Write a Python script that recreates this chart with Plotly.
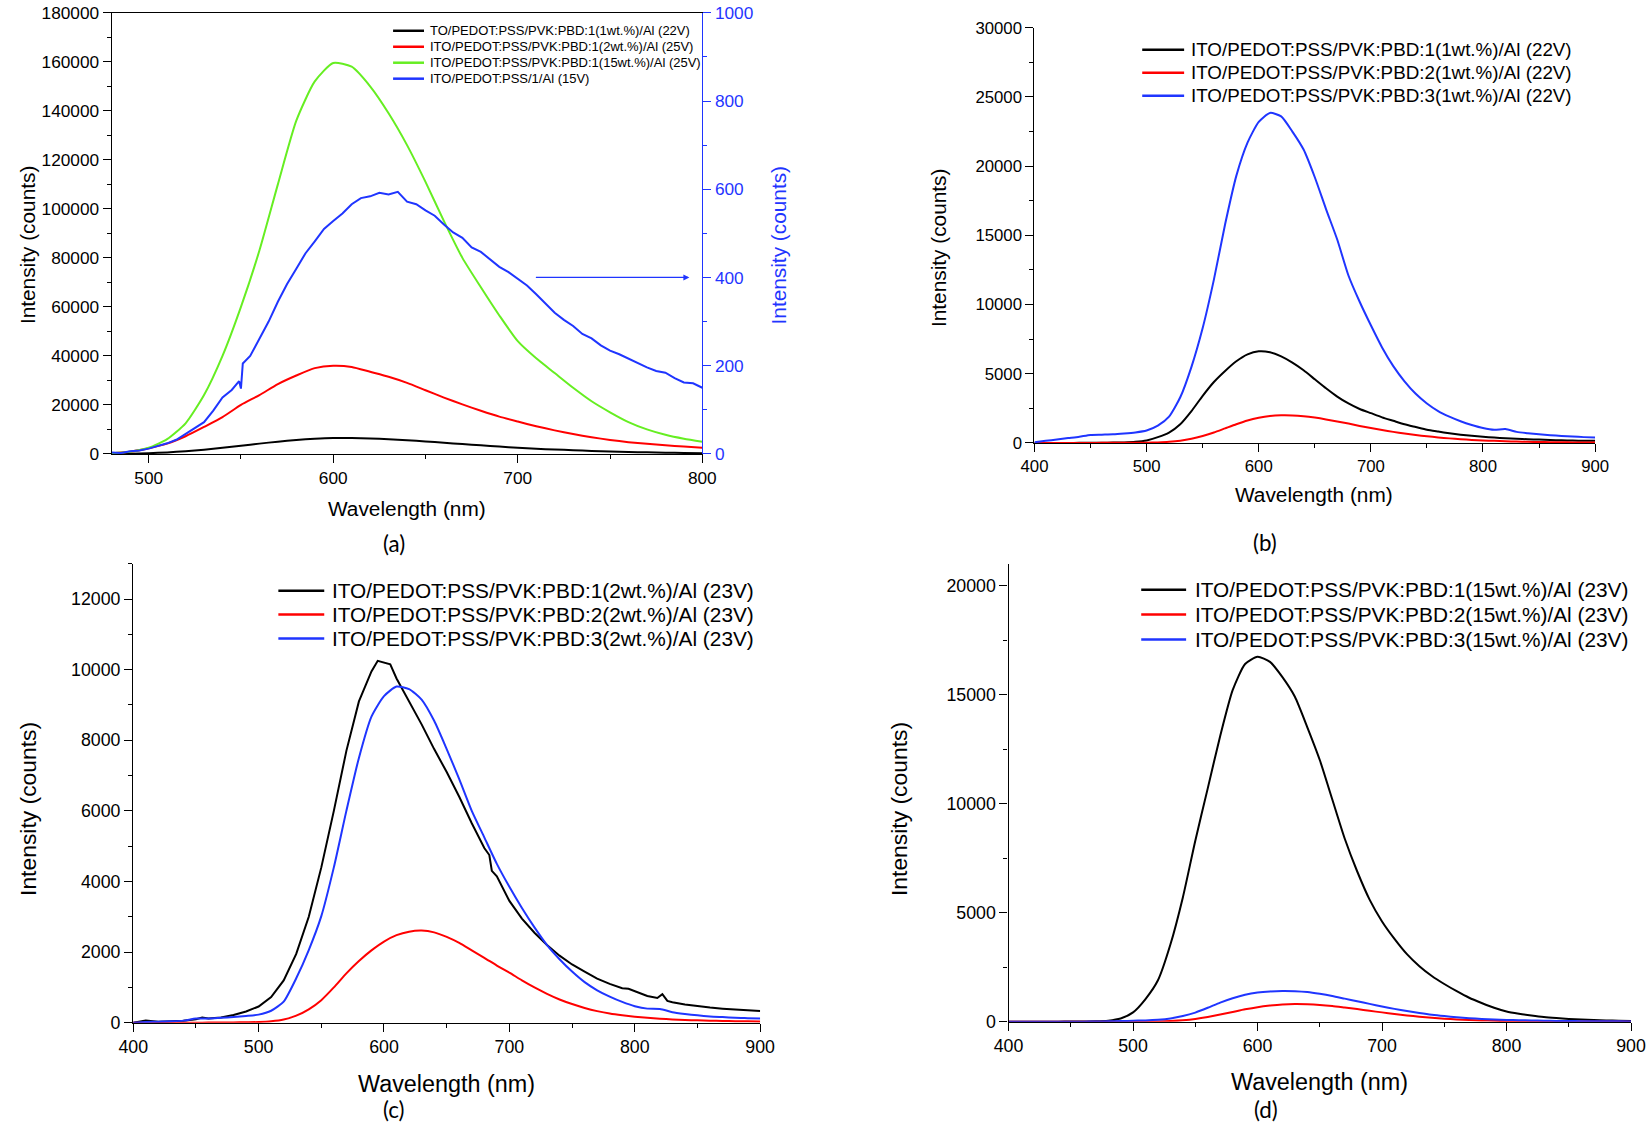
import plotly.graph_objects as go

# ---------------- data ----------------
# panel (a): 480-800 nm, 10 nm steps
a_wl = list(range(480, 801, 10))
a_1wt = [50, 100, 300, 600, 1100, 1700, 2500, 3300, 4200, 5000, 5700, 6200, 6500,
         6500, 6300, 6000, 5600, 5100, 4600, 4000, 3500, 3000, 2500, 2100, 1800,
         1500, 1200, 1000, 800, 650, 500, 400, 300]
a_2wt = [300, 900, 2300, 4200, 7200, 11000, 15000, 20000, 24000, 28500, 32000, 35000, 36000,
         35500, 33500, 31500, 29000, 26000, 23000, 20200, 17600, 15200, 13200, 11300, 9600,
         8100, 6800, 5700, 4800, 4100, 3500, 3000, 2500]
a_15wt = [300, 900, 2500, 6000, 12500, 24000, 40000, 60000, 83000, 110000, 136000, 152000, 159500,
          158000, 150000, 139000, 126000, 111000, 95000, 80000, 68000, 56500, 46000, 39000, 33000,
          27000, 21500, 17000, 13000, 10000, 7800, 6200, 5000]
# compound 1 alone (right axis), finer steps, noisy trace
a_c1_wl = [480, 485, 490, 495, 500, 505, 510, 515, 520, 525, 530, 535, 540, 545, 549, 550, 551,
           555, 560, 565, 570, 575, 580, 585, 590, 595, 600, 605, 610, 615, 620, 625, 630, 635,
           640, 645, 650, 655, 660, 665, 670, 675, 680, 685, 690, 695, 700, 705, 710, 715, 720,
           725, 730, 735, 740, 745, 750, 755, 760, 765, 770, 775, 780, 785, 790, 795, 800]
a_c1 = [3, 2, 6, 8, 12, 18, 24, 32, 45, 58, 72, 98, 128, 145, 165, 148, 205,
        222, 262, 300, 345, 385, 420, 455, 482, 510, 528, 545, 566, 580, 584, 592, 588, 594,
        572, 566, 552, 540, 520, 502, 490, 468, 458, 440, 424, 412, 398, 382, 362, 342, 320,
        304, 290, 272, 262, 246, 234, 226, 216, 205, 196, 188, 184, 172, 162, 160, 150]

# panels (b)-(d): 400-900 nm, 10 nm steps
bcd_wl = list(range(400, 901, 10))
b_pbd1 = [0, 0, 0, 0, 5, 10, 15, 25, 40, 80, 180, 420, 750, 1350, 2300, 3400, 4400, 5200, 5900, 6400,
          6620, 6550, 6250, 5800, 5250, 4600, 3950, 3350, 2850, 2450, 2150, 1850, 1600, 1350, 1150,
          950, 820, 700, 600, 520, 450, 390, 340, 300, 270, 240, 210, 190, 170, 160, 150]
b_pbd2 = [0, 0, 0, 0, 0, 0, 5, 5, 10, 10, 20, 40, 80, 160, 300, 500, 750, 1050, 1350, 1620,
          1820, 1950, 2000, 1990, 1930, 1830, 1700, 1550, 1400, 1230, 1080, 930, 800, 680, 570,
          480, 400, 330, 270, 220, 180, 150, 120, 100, 80, 65, 55, 45, 40, 35, 30]
b_pbd3 = [50, 150, 250, 350, 450, 580, 600, 620, 680, 760, 900, 1250, 1900, 3300, 5500, 8300, 11800,
          15800, 19300, 21700, 23200, 23850, 23600, 22500, 21200, 19200, 16900, 14700, 12100, 10200,
          8500, 6900, 5550, 4450, 3550, 2850, 2300, 1900, 1570, 1300, 1080, 950, 1000, 800, 700,
          620, 560, 510, 460, 420, 390]

c_pbd1_wl = [400, 410, 420, 430, 440, 450, 455, 460, 470, 480, 490, 500, 510, 520, 530, 540, 550,
             560, 570, 580, 590, 595, 600, 605, 610, 620, 630, 640, 650, 660, 670, 680, 684, 686,
             690, 700, 710, 720, 730, 740, 750, 760, 770, 780, 790, 795, 800, 810, 818, 822, 826,
             830, 840, 850, 860, 870, 880, 890, 900]
c_pbd1 = [0, 60, 30, 40, 60, 100, 150, 120, 150, 220, 320, 460, 725, 1200, 1950, 3000, 4400,
          6000, 7700, 9100, 9950, 10250, 10200, 10150, 9750, 9100, 8450, 7750, 7100, 6400, 5650,
          4950, 4750, 4300, 4150, 3450, 2950, 2550, 2200, 1900, 1650, 1450, 1250, 1100, 980, 960,
          900, 760, 700, 810, 620, 580, 520, 470, 430, 400, 370, 350, 330]
c_pbd2 = [0, 0, 0, 0, 0, 0, 5, 5, 10, 15, 20, 40, 90, 200, 380, 640, 1000, 1400, 1750, 2050,
          2300, 2480, 2580, 2610, 2560, 2430, 2260, 2050, 1840, 1620, 1420, 1200, 1000, 820, 660,
          530, 420, 330, 260, 210, 170, 140, 115, 95, 80, 68, 58, 50, 45, 40, 35]
c_pbd3 = [0, 20, 30, 40, 60, 120, 120, 140, 160, 190, 230, 340, 600, 1260, 2060, 3020, 4400,
          6000, 7500, 8670, 9250, 9520, 9450, 9150, 8550, 7750, 6900, 6000, 5250, 4500, 3850,
          3250, 2700, 2200, 1800, 1450, 1150, 920, 740, 590, 470, 400, 390, 300, 250, 210, 180,
          160, 140, 130, 120]

d_pbd1 = [0, 0, 0, 0, 5, 10, 15, 20, 50, 150, 430, 1040, 1900, 3540, 5700, 8300, 10700, 13100,
          15200, 16400, 16730, 16500, 15800, 14900, 13500, 12000, 10200, 8400, 6900, 5600, 4600,
          3800, 3100, 2550, 2100, 1730, 1400, 1100, 860, 640, 470, 370, 290, 220, 170, 130, 100,
          80, 60, 50, 40]
d_pbd2 = [0, 0, 0, 0, 0, 0, 0, 0, 0, 0, 0, 5, 15, 35, 70, 130, 220, 330, 450, 570,
          670, 740, 790, 810, 800, 770, 720, 650, 580, 500, 430, 360, 290, 230, 180, 140, 105,
          80, 60, 45, 35, 28, 22, 18, 15, 12, 10, 8, 7, 6, 5]
d_pbd3 = [0, 0, 0, 0, 5, 5, 5, 10, 20, 30, 50, 60, 90, 150, 260, 420, 640, 880, 1080, 1240,
          1340, 1390, 1410, 1400, 1360, 1280, 1180, 1060, 940, 820, 700, 590, 490, 400, 320, 260,
          210, 165, 130, 105, 85, 70, 58, 48, 40, 34, 28, 24, 20, 18, 15]

a_labels = ["TO/PEDOT:PSS/PVK:PBD:1(1wt.%)/Al (22V)", "ITO/PEDOT:PSS/PVK:PBD:1(2wt.%)/Al (25V)",
            "ITO/PEDOT:PSS/PVK:PBD:1(15wt.%)/Al (25V)", "ITO/PEDOT:PSS/1/Al (15V)"]
b_labels = ["ITO/PEDOT:PSS/PVK:PBD:%d(1wt.%%)/Al (22V)" % i for i in (1, 2, 3)]
c_labels = ["ITO/PEDOT:PSS/PVK:PBD:%d(2wt.%%)/Al (23V)" % i for i in (1, 2, 3)]
d_labels = ["ITO/PEDOT:PSS/PVK:PBD:%d(15wt.%%)/Al (23V)" % i for i in (1, 2, 3)]

# ---------------- styling ----------------
W, H = 1651, 1132
FONT = "Liberation Sans, Arial, sans-serif"
BLACK, RED, GREEN, BLUE = "#000000", "#FF0000", "#66EE22", "#1F35FF"
# the photographed page shows the figure slightly shrunk and inset; pixel positions
# measured on the reference are mapped through this correction
K = 1.016


def px(p):
    return 1.016 * p - 13.2


def py(p):
    return 1.015 * p - 8.3


def fx(p):
    return px(p) / W


def fy(p):
    return 1 - py(p) / H


def fs(s):
    return s * K


def line(x, y, color, xa, ya, shape="spline"):
    return go.Scatter(x=x, y=y, mode="lines", xaxis=xa, yaxis=ya, hoverinfo="skip",
                      line=dict(color=color, width=2, shape=shape, smoothing=0.6))


def axis(dom, rng, dtick, minor, size, color=BLACK, **kw):
    d = dict(domain=dom, range=rng, dtick=dtick, tick0=0, showline=True, linecolor=color,
             linewidth=1.3, ticks="outside", ticklen=8, tickwidth=1.3, tickcolor=color,
             minor=dict(dtick=minor, ticks="outside", ticklen=4, tickwidth=1.3, tickcolor=color),
             showgrid=False, zeroline=False, tickformat="d", fixedrange=True,
             tickfont=dict(family=FONT, size=fs(size), color=color))
    d.update(kw)
    return d


traces = [
    line(a_wl, a_1wt, BLACK, "x", "y"),
    line(a_wl, a_2wt, RED, "x", "y"),
    line(a_wl, a_15wt, GREEN, "x", "y"),
    line(a_c1_wl, a_c1, BLUE, "x", "y2", shape="linear"),
    line(bcd_wl, b_pbd1, BLACK, "x2", "y3"),
    line(bcd_wl, b_pbd2, RED, "x2", "y3"),
    line(bcd_wl, b_pbd3, BLUE, "x2", "y3"),
    line(c_pbd1_wl, c_pbd1, BLACK, "x3", "y4", shape="linear"),
    line(bcd_wl, c_pbd2, RED, "x3", "y4"),
    line(bcd_wl, c_pbd3, BLUE, "x3", "y4"),
    line(bcd_wl, d_pbd1, BLACK, "x4", "y5"),
    line(bcd_wl, d_pbd2, RED, "x4", "y5"),
    line(bcd_wl, d_pbd3, BLUE, "x4", "y5"),
]

fig = go.Figure(data=traces)

fig.update_layout(
    width=W, height=H, margin=dict(l=0, r=0, t=0, b=0),
    paper_bgcolor="white", plot_bgcolor="white", showlegend=False,
    xaxis=axis([fx(110), fx(702)], [480, 800], 100, 50, 17, anchor="y", mirror=True),
    yaxis=axis([fy(454), fy(12)], [0, 180000], 20000, 10000, 17, anchor="x"),
    yaxis2=axis([fy(454), fy(12)], [0, 1000], 200, 100, 17, color=BLUE, anchor="x",
                overlaying="y", side="right"),
    xaxis2=axis([fx(1035), fx(1597)], [400, 900], 100, 50, 16.5, anchor="y3"),
    yaxis3=axis([fy(443), fy(27)], [0, 30000], 5000, 2500, 16.5, anchor="x2"),
    xaxis3=axis([fx(131.5), fx(760)], [400, 900], 100, 50, 17.5, anchor="y4"),
    yaxis4=axis([fy(1024), fy(564)], [0, 13000], 2000, 1000, 17.5, anchor="x3"),
    xaxis4=axis([fx(1009), fx(1633)], [400, 900], 100, 50, 17.5, anchor="y5"),
    yaxis5=axis([fy(1023), fy(564)], [0, 21000], 5000, 2500, 17.5, anchor="x4"),
)

ann = []
shapes = []


def text(x, y, s, size, color=BLACK, angle=0, family=FONT):
    ann.append(dict(x=x, y=y, xref="paper", yref="paper", text=s, showarrow=False,
                    textangle=angle, xanchor="center", yanchor="middle",
                    font=dict(family=family, size=fs(size), color=color)))


# axis titles and panel letters
for (yx, yy, ys), (wx, wy, ws), (lx, ly, lab) in [
    ((14, 245, 20.5), (406, 509, 20.5), (393, 544, "(a)")),
    ((939, 248, 20.5), (1315, 495, 20.5), (1266, 543, "(b)")),
    ((22, 810, 22.5), (446, 1085, 23), (393, 1116, "(c)")),
    ((899, 810, 22.5), (1321, 1083, 23), (1267, 1115, "(d)")),
]:
    # keep texts inside the page
    text(max(fx(yx), 13 / W), fy(yy), "Intensity (counts)", ys, angle=-90)
    text(fx(wx), fy(wy), "Wavelength (nm)", ws)
    text(fx(lx), max(fy(ly), 1 - 1119 / H), lab, 22, family="Lato, Open Sans, sans-serif")
text(fx(778), fy(245), "Intensity (counts)", 20.5, color=BLUE, angle=-90)

# arrow pointing to the right-hand axis
ann.append(dict(x=793, y=400, xref="x", yref="y2", ax=709, ay=400, axref="x", ayref="y2",
                text="", showarrow=True, arrowhead=2, arrowsize=1, arrowwidth=1.2,
                arrowcolor=BLUE))

# legends
for x0, x1, tx, rows, size, labels, colors in [
    (392, 423, 427, [30, 46, 62, 78], 12.8, a_labels, [BLACK, RED, GREEN, BLUE]),
    (1143, 1185, 1190, [49, 72, 95], 18.5, b_labels, [BLACK, RED, BLUE]),
    (277, 323, 329, [591, 615, 639], 20.5, c_labels, [BLACK, RED, BLUE]),
    (1142, 1187, 1194, [590, 615, 640], 20.5, d_labels, [BLACK, RED, BLUE]),
]:
    for yy, lab, col in zip(rows, labels, colors):
        shapes.append(dict(type="line", xref="paper", yref="paper", x0=fx(x0), x1=fx(x1),
                           y0=fy(yy), y1=fy(yy), line=dict(color=col, width=2.5)))
        ann.append(dict(x=fx(tx), y=fy(yy), xref="paper", yref="paper", text=lab,
                        showarrow=False, xanchor="left", yanchor="middle",
                        font=dict(family=FONT, size=fs(size), color=BLACK)))

fig.update_layout(annotations=ann, shapes=shapes)

# drop the default page margin so the figure sits at the window's top-left corner
fig.write_html("out.html", config={"displayModeBar": False},
               post_script="document.body.style.margin='0';"
                           "document.body.style.overflow='hidden';")
